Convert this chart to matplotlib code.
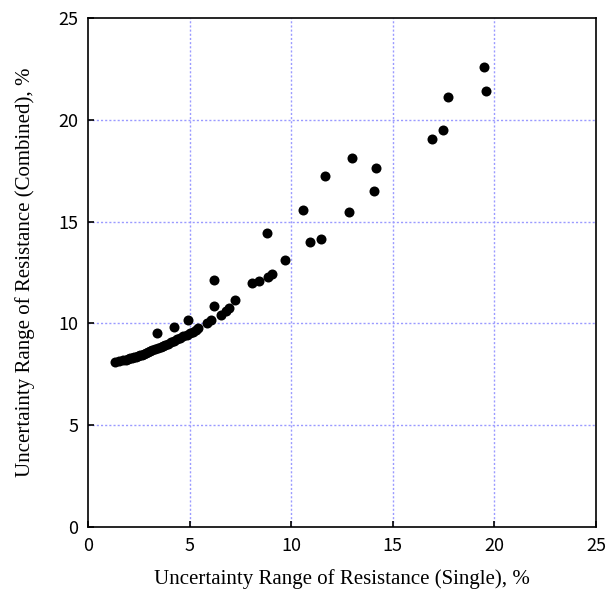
import matplotlib
matplotlib.use("Agg")
import matplotlib.pyplot as plt

# dense part of the curve
x_curve = [1.35, 1.55, 1.7, 1.85, 1.95, 2.05, 2.15, 2.25, 2.35, 2.45, 2.55, 2.65,
           2.75, 2.85, 2.95, 3.05, 3.15, 3.3, 3.45, 3.6, 3.7, 3.8, 3.95, 4.1,
           4.25, 4.4, 4.55, 4.7, 4.85, 5.0, 5.15, 5.3, 5.4]
y_curve = [8.10, 8.15, 8.18, 8.22, 8.25, 8.28, 8.31, 8.34, 8.37, 8.40, 8.44, 8.47,
           8.51, 8.55, 8.59, 8.63, 8.67, 8.73, 8.79, 8.85, 8.90, 8.95, 9.01, 9.08,
           9.15, 9.22, 9.29, 9.37, 9.44, 9.52, 9.60, 9.70, 9.78]

# scattered points
x_other = [3.38, 4.23, 4.92, 5.84, 6.04, 6.20, 6.18, 6.55, 6.77, 6.95, 7.23, 8.09,
           8.40, 8.79, 8.86, 9.06, 9.71, 10.56, 10.94, 11.45, 11.68, 12.86, 13.01,
           14.09, 14.19, 16.94, 17.49, 17.73, 19.49, 19.60]
y_other = [9.51, 9.84, 10.15, 10.00, 10.17, 12.13, 10.87, 10.41, 10.63, 10.77, 11.15, 11.97,
           12.07, 14.42, 12.30, 12.41, 13.10, 15.57, 13.98, 14.15, 17.22, 15.47, 18.14,
           16.50, 17.62, 19.07, 19.48, 21.12, 22.61, 21.41]

ticks = [0, 5, 10, 15, 20, 25]

fig = plt.figure(figsize=(6.08, 5.91), dpi=100)
ax = fig.add_axes([0.1447, 0.1083, 0.8356, 0.8612])

ax.scatter(x_curve + x_other, y_curve + y_other, s=52, color="black", zorder=3,
           linewidths=0)

ax.set_xlim(0, 25)
ax.set_ylim(0, 25)
ax.set_xticks(ticks)
ax.set_yticks(ticks)
for v in [5, 10, 15, 20]:
    ax.axvline(v, color="#9a9aff", linestyle=(0, (1.5, 1.5)), linewidth=1, zorder=1)
    ax.axhline(v, color="#9a9aff", linestyle=(0, (1.5, 1.5)), linewidth=1, zorder=1)

ax.tick_params(direction="in", length=4, width=1.2, pad=7, labelsize=13)
for lab in ax.get_xticklabels() + ax.get_yticklabels():
    lab.set_family(["Noto Sans CJK JP", "DejaVu Sans"])
for s in ax.spines.values():
    s.set_linewidth(1.2)

ax.set_xlabel("Uncertainty Range of Resistance (Single), %", family="Liberation Serif",
              fontsize=15, labelpad=10)
ax.set_ylabel("Uncertainty Range of Resistance (Combined), %", family="Liberation Serif",
              fontsize=15, labelpad=17)

fig.savefig("out.png", dpi=100)
